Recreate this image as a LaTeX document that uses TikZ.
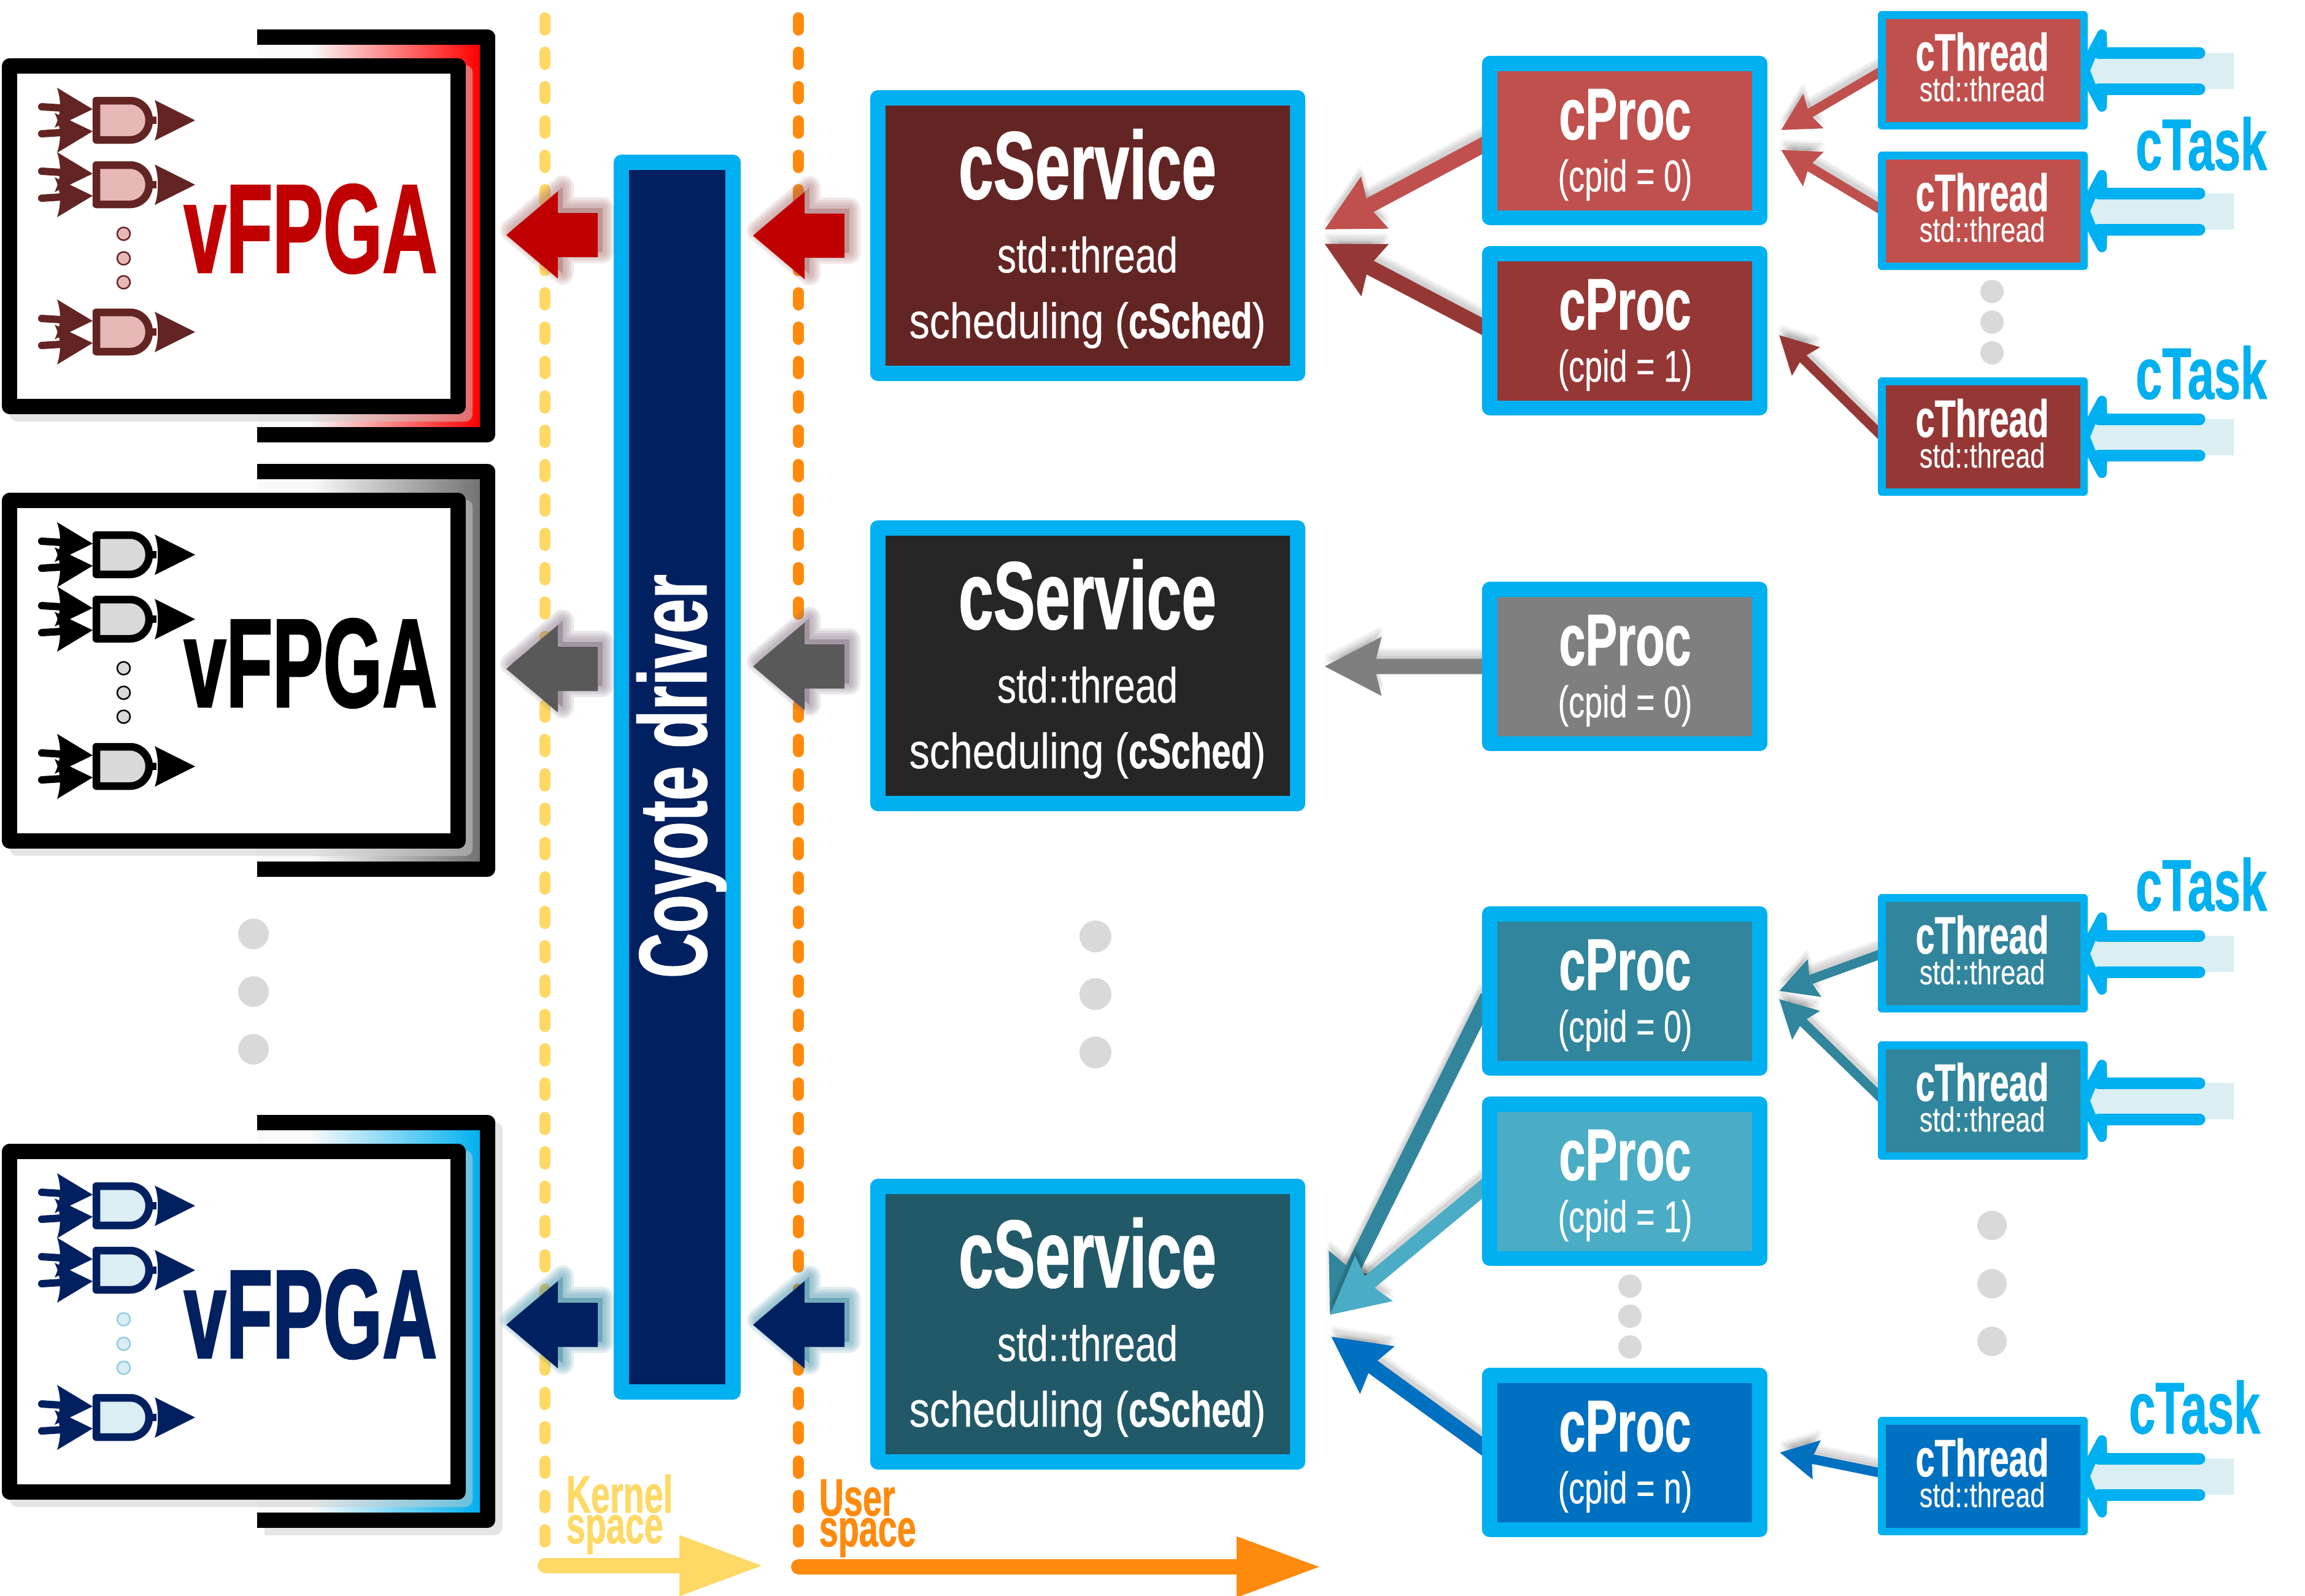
\documentclass[tikz,border=0pt]{standalone}
\usepackage{fontspec}
\setmainfont{Liberation Sans}
\newfontfamily\dinb[FakeStretch=.65,FakeBold=.8]{Liberation Sans Bold}
\newfontfamily\dinv[FakeStretch=.60,FakeBold=1.2]{Liberation Sans Bold}
\newfontfamily\dinc[FakeStretch=.70,FakeBold=.6]{Liberation Sans Bold}
\newfontfamily\dinr[FakeStretch=.77,FakeBold=.3]{Liberation Sans}
\newfontfamily\dins[FakeStretch=.82,FakeBold=.3]{Liberation Sans}
\newfontfamily\dinp[FakeStretch=.72,FakeBold=.3]{Liberation Sans}
\usetikzlibrary{arrows.meta,backgrounds}

\definecolor{edgecyan}{HTML}{00B0F0}
\definecolor{navyfill}{HTML}{002060}
\definecolor{redfill}{HTML}{C00000}
\definecolor{grayfill}{HTML}{595959}
\definecolor{kernyellow}{HTML}{FFD966}
\definecolor{userorange}{HTML}{FF8A0D}
\definecolor{dotgray}{HTML}{D9D9D9}
\definecolor{paleblue}{HTML}{DAEEF3}
\definecolor{palered}{HTML}{E6B9B8}
\definecolor{svcbrown}{HTML}{632523}
\definecolor{svcblack}{HTML}{262626}
\definecolor{svcteal}{HTML}{215968}
\definecolor{procred}{HTML}{C0504D}
\definecolor{procdark}{HTML}{953735}
\definecolor{procgray}{HTML}{7F7F7F}
\definecolor{procteal}{HTML}{31859C}
\definecolor{proclight}{HTML}{4BACC6}
\definecolor{procblue}{HTML}{0070C0}

\tikzset{
    fpgabox/.style={draw=black, fill=white, line width=.25cm, line join=round, minimum width=7.30cm, minimum height=5.55cm, inner sep=0pt},
    drvbox/.style={draw=edgecyan, fill=navyfill, line width=.25cm, line join=round, minimum width=1.82cm, minimum height=20.04cm, inner sep=0pt},
    svcbox/.style={draw=edgecyan, line width=.25cm, line join=round, minimum width=6.84cm, minimum height=4.49cm, inner sep=0pt},
    procbox/.style={draw=edgecyan, line width=.245cm, line join=round, minimum width=4.40cm, minimum height=2.515cm, inner sep=0pt},
    threadbox/.style={draw=edgecyan, line width=.125cm, line join=round, minimum width=3.295cm, minimum height=1.805cm, inner sep=0pt},
    basetext/.style={inner sep=0pt, anchor=base},
    fpgatitle/.style={basetext, font=\dinv\fontsize{58.7}{60}\selectfont},
    drvtitle/.style={basetext, text=white, rotate=90, font=\dinb\fontsize{44.7}{46}\selectfont},
    svctitle/.style={basetext, text=white, font=\dinb\fontsize{44.7}{46}\selectfont},
    svcsub/.style={basetext, text=white, font=\dinr\fontsize{23}{24}\selectfont},
    svcsched/.style={basetext, text=white, font=\dins\fontsize{23}{24}\selectfont},
    proctitle/.style={basetext, text=white, font=\dinb\fontsize{33.9}{35}\selectfont},
    procsub/.style={basetext, text=white, font=\dinp\fontsize{20.6}{22}\selectfont},
    threadtitle/.style={basetext, text=white, font=\dinb\fontsize{24.4}{25}\selectfont},
    threadsub/.style={basetext, text=white, font=\dinr\fontsize{16}{17}\selectfont},
    tasklabel/.style={basetext, text=edgecyan, font=\dinb\fontsize{33.9}{35}\selectfont},
    spacelabel/.style={basetext, anchor=base west, font=\dinb\fontsize{24.4}{25}\selectfont},
    svclink/.style={line width=.25cm, shorten <=-.2cm, -{Stealth[length=.91cm,width=.91cm,inset=.1cm]}},
    threadlink/.style={line width=.155cm, shorten <=-.1cm, -{Stealth[length=.60cm,width=.62cm,inset=.07cm]}},
    spacearrow/.style={line width=.25cm, line cap=round, -{Triangle[length=1.38cm,width=.92cm]}},
    spaceline/.style={line width=.18cm, line cap=round, dash pattern=on .20cm off .36cm}
}

% soft shadow plus the line itself
\newcommand{\softlink}[4]{%
    \foreach \gx/\gy in {-.05/.05,.05/.05,0/.10,-.03/.14,.03/.14,0/.18}
        \draw[#1, draw=black, opacity=.035, transform canvas={xshift=\gx cm, yshift=\gy cm}] #3 -- #4;
    \draw[#1, draw=#2] #3 -- #4;
}

% block arrow with a glow, (#1,#2) is its tip
\newcommand{\bigarrow}[4]{%
    \begin{scope}[shift={(#1,#2)}]
        \foreach \gw in {.36,.28,.20,.12}
            \draw[#4, fill=#4, opacity=.14, line width=\gw cm, line join=round, shift={(.08,-.08)}] (0,0) -- (.84,-.71) -- (.84,-.36) -- (1.49,-.36) -- (1.49,.36) -- (.84,.36) -- (.84,.71) -- cycle;
        \fill[#3] (0,0) -- (.84,-.71) -- (.84,-.36) -- (1.49,-.36) -- (1.49,.36) -- (.84,.36) -- (.84,.71) -- cycle;
    \end{scope}
}

% one gate, #1 is its height
\newcommand{\gatepic}[3]{%
    \begin{scope}[shift={(1.57,#1)}]
        \draw[#2, line width=.12cm, line cap=round] (-.89,-.22) -- (-.57,-.20);
        \draw[#2, line width=.12cm, line cap=round] (-.89,.22) -- (-.57,.20);
        \fill[#2] (-.64,-.53) -- (-.06,-.18) -- (-.68,.12) .. controls (-.57,-.11) and (-.57,-.31) .. (-.64,-.53) -- cycle;
        \fill[#2] (-.64,.53) -- (-.06,.18) -- (-.68,-.12) .. controls (-.57,.11) and (-.57,.31) .. (-.64,.53) -- cycle;
        \draw[#2, fill=#3, line width=.125cm, line join=round] (0,-.32) -- (.55,-.32) .. controls (.72,-.32) and (.86,-.18) .. (.86,0) .. controls (.86,.18) and (.72,.32) .. (.55,.32) -- (0,.32) -- cycle;
        \draw[#2, line width=.12cm] (.86,0) -- (.98,0);
        \fill[#2] (.95,-.33) -- (1.61,0) -- (.95,.33) .. controls (1.02,.15) and (1.02,-.15) .. (.95,-.33) -- cycle;
    \end{scope}
}

% name, shift, title colour, gate colour, gate fill, dot edge, gradient colour
\newcommand{\fpgablock}[7]{%
    \begin{scope}[shift={(0,#2)}]
        \fill[black!2] (4.19,.73) rectangle (5.05,6.96);
        \shade[left color=black!2, right color=#7] (5.05,.73) rectangle (7.82,6.96);
        \draw[black, line width=.25cm, line join=round] (4.19,.60) -- (7.94,.60) -- (7.94,7.085) -- (4.19,7.085);
        \fill[black!20, opacity=.5, rounded corners=.12cm] (.16,1.06) rectangle (7.70,6.87);
        \node[fpgabox] (#1) at (3.81,3.85) {};
        \node[fpgatitle, text=#3] (#1t) at (5.06,4.44) {vFPGA};
        \gatepic{1.96}{#4}{#5}
        \gatepic{3.01}{#4}{#5}
        \gatepic{5.41}{#4}{#5}
        \foreach \dy in {3.81,4.21,4.60}
            \draw[#6, fill=#5, line width=.025cm] (2.015,\dy) circle[radius=.105];
    \end{scope}
}

\newcommand{\svcblock}[3]{%
    \begin{scope}[shift={(0,#2)}]
        \node[svcbox, fill=#3] (#1) at (17.725,2.37) {};
        \node[svctitle] (#1a) at (17.72,1.77) {cService};
        \node[svcsub] (#1b) at (17.72,2.97) {std::thread};
        \node[svcsched] (#1c) at (17.72,4.04) {scheduling ({\dinc cSched})};
    \end{scope}
}

\newcommand{\procblock}[4]{%
    \begin{scope}[shift={(0,#2)}]
        \node[procbox, fill=#3] (#1) at (26.475,1.38) {};
        \node[proctitle] (#1a) at (26.48,1.36) {cProc};
        \node[procsub] (#1b) at (26.48,2.21) {(cpid = #4)};
    \end{scope}
}

\newcommand{\threadblock}[3]{%
    \begin{scope}[shift={(0,#2)}]
        \node[threadbox, fill=#3] (#1) at (32.31,.965) {};
        \node[threadtitle] (#1a) at (32.30,.97) {cThread};
        \node[threadsub] (#1b) at (32.30,1.47) {std::thread};
        % task arrow
        \draw[edgecyan, fill=edgecyan, line width=.16cm, line join=round] (34.09,.68) -- (34.25,.38) -- (34.26,.70) -- (34.14,.97) -- (34.26,1.24) -- (34.25,1.56) -- (34.09,1.26) -- cycle;
        \fill[paleblue] (36.40,.68) -- (34.18,.68) -- (34.06,.97) -- (34.18,1.27) -- (36.40,1.27) -- cycle;
        \draw[edgecyan, line width=.19cm, line cap=round] (34.20,.68) -- (35.84,.68);
        \draw[edgecyan, line width=.19cm, line cap=round] (34.20,1.27) -- (35.84,1.27);
    \end{scope}
}

\begin{document}
\begin{tikzpicture}[x=1cm, y=-1cm]
    \useasboundingbox (0,0) rectangle (37.56,26);

    % Kernel and user space lines
    \draw[spaceline, kernyellow] (8.88,.29) -- (8.88,25.18);
    \draw[spaceline, userorange] (13.01,.29) -- (13.01,25.18);

    % vFPGA blocks
    \fpgablock{fp1}{0}{redfill}{svcbrown}{palered}{svcbrown}{red}
    \fpgablock{fp2}{7.08}{black}{black}{dotgray}{black}{black!55}
    % shadow of the third frame
    \draw[black!10, line width=.25cm, line join=round] (4.31,18.41) -- (8.06,18.41) -- (8.06,24.89) -- (4.31,24.89);
    \fpgablock{fp3}{17.69}{navyfill}{navyfill}{paleblue}{proclight!60!white}{edgecyan}

    % Dots
    \foreach \dy in {15.22,16.16,17.10}
        \fill[dotgray] (4.13,\dy) circle[radius=.25];
    \foreach \dy in {15.26,16.20,17.15}
        \fill[dotgray] (17.85,\dy) circle[radius=.26];
    \foreach \dy in {4.75,5.25,5.75}
        \fill[dotgray] (32.46,\dy) circle[radius=.19];
    \foreach \dy in {19.97,20.92,21.86}
        \fill[dotgray] (32.46,\dy) circle[radius=.24];
    \foreach \dy in {20.96,21.45,21.95}
        \fill[dotgray] (26.56,\dy) circle[radius=.19];

    % Coyote driver
    \node[drvbox] (drv) at (11.035,12.665) {};
    \node[drvtitle] (drvt) at (11.51,12.65) {Coyote driver};

    % Block arrows
    \bigarrow{8.25}{3.83}{redfill}{red!40!black!60!white}
    \bigarrow{12.27}{3.84}{redfill}{red!40!black!60!white}
    \bigarrow{8.25}{10.90}{grayfill}{violet!25!black!60!white}
    \bigarrow{12.27}{10.86}{grayfill}{violet!25!black!60!white}
    \bigarrow{8.25}{21.59}{navyfill}{procteal}
    \bigarrow{12.27}{21.59}{navyfill}{procteal}

    % cService blocks
    \svcblock{svc1}{1.47}{svcbrown}
    \svcblock{svc2}{8.48}{svcblack}
    \svcblock{svc3}{19.21}{svcteal}

    % cProc blocks
    \procblock{p11}{.91}{procred}{0}
    \procblock{p12}{4.01}{procdark}{1}
    \procblock{p21}{9.48}{procgray}{0}
    \procblock{p31}{14.77}{procteal}{0}
    \procblock{p32}{17.87}{proclight}{1}
    \procblock{p33}{22.29}{procblue}{n}

    % cThread blocks
    \threadblock{t11}{.18}{procred}
    \threadblock{t12}{2.47}{procred}
    \threadblock{t13}{6.15}{procdark}
    \threadblock{t31}{14.57}{procteal}
    \threadblock{t32}{16.97}{procteal}
    \threadblock{t33}{23.09}{procblue}

    % cTask labels
    \node[tasklabel] (task1) at (35.87,2.77) {cTask};
    \node[tasklabel] (task2) at (35.87,6.50) {cTask};
    \node[tasklabel] (task3) at (35.87,14.84) {cTask};
    \node[tasklabel] (task4) at (35.76,23.36) {cTask};

    % Free ends of the links
    \coordinate (in1a) at (21.58,3.74);
    \coordinate (in1b) at (21.58,3.97);
    \coordinate (in2) at (21.58,10.86);
    \coordinate (in3a) at (21.67,21.43);
    \coordinate (in3b) at (21.69,21.78);
    \coordinate (inp1a) at (29.02,2.12);
    \coordinate (inp1b) at (29.02,2.44);
    \coordinate (inp2) at (28.99,5.46);
    \coordinate (inp3a) at (28.99,16.15);
    \coordinate (inp3b) at (28.99,16.28);
    \coordinate (inp3c) at (29.00,23.67);

    \begin{pgfonlayer}{background}
        % Links to cService
        \softlink{svclink}{procred}{([yshift=-.08cm]p11.west)}{(in1a)}
        \softlink{svclink}{procdark}{([yshift=.07cm]p12.west)}{(in1b)}
        \softlink{svclink}{procgray}{(p21.west)}{(in2)}
        \softlink{svclink}{procteal}{([yshift=-.27cm]p31.west)}{(in3a)}
        \softlink{svclink}{proclight}{([yshift=-.12cm]p32.west)}{(in3a)}
        \softlink{svclink}{procblue}{([yshift=.10cm]p33.west)}{(in3b)}

        % Links to cProc
        \softlink{threadlink}{procred}{([yshift=-.05cm]t11.west)}{(inp1a)}
        \softlink{threadlink}{procred}{([yshift=.05cm]t12.west)}{(inp1b)}
        \softlink{threadlink}{procdark}{([yshift=.07cm]t13.west)}{(inp2)}
        \softlink{threadlink}{procteal}{([yshift=-.03cm]t31.west)}{(inp3a)}
        \softlink{threadlink}{procteal}{([yshift=.09cm]t32.west)}{(inp3b)}
        \softlink{threadlink}{procblue}{([yshift=.06cm]t33.west)}{(inp3c)}
    \end{pgfonlayer}

    % Space labels and arrows
    \node[spacelabel, text=kernyellow] (kern1) at (9.22,24.65) {Kernel};
    \node[spacelabel, text=kernyellow] (kern2) at (9.22,25.15) {space};
    \node[spacelabel, text=userorange] (user1) at (13.34,24.70) {User};
    \node[spacelabel, text=userorange] (user2) at (13.34,25.20) {space};
    \coordinate (kernfrom) at (8.885,25.515);
    \coordinate (kernto) at (12.45,25.515);
    \coordinate (userfrom) at (13.015,25.535);
    \coordinate (userto) at (21.53,25.535);
    \draw[spacearrow, kernyellow] (kernfrom) -- (kernto);
    \draw[spacearrow, userorange] (userfrom) -- (userto);
\end{tikzpicture}
\end{document}
